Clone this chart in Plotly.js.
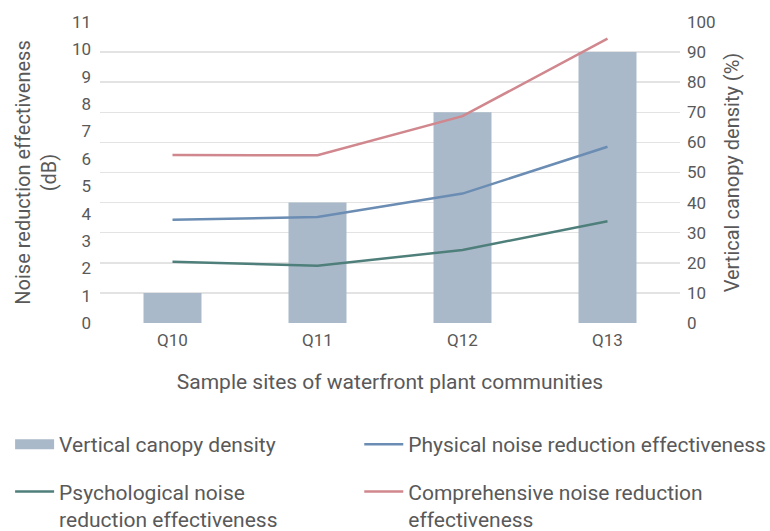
<!DOCTYPE html>
<html>
<head>
<meta charset="utf-8">
<script src="https://cdn.plot.ly/plotly-3.0.1.min.js"></script>
<style>html,body{margin:0;padding:0;background:#fff;}#chart{width:770px;height:531px;}</style>
</head>
<body>
<div id="chart"></div>
<script>
const sites = ["Q10", "Q11", "Q12", "Q13"];
const canopyDensity = [10, 40, 70, 90];
const physicalNR = [3.77, 3.87, 4.73, 6.44];
const psychologicalNR = [2.24, 2.09, 2.67, 3.72];
const comprehensiveNR = [6.14, 6.13, 7.56, 10.39];
const leftTicks = [0,1,2,3,4,5,6,7,8,9,10,11];
const rightTicks = [0,10,20,30,40,50,60,70,80,90,100];

const font = "Roboto, 'DejaVu Sans', sans-serif";
const txt = "#595959";
const barColor = "#aab9ca";

const traces = [
  {type: "bar", name: "Vertical canopy density", x: sites, y: canopyDensity, yaxis: "y",
   marker: {color: barColor}, showlegend: false},
  // legend proxy for the bar series (wide rectangle swatch like the reference)
  {type: "scatter", mode: "lines", name: "Vertical canopy density", x: [null], y: [null], yaxis: "y",
   line: {color: barColor, width: 12}, legend: "legend", legendgroup: "a", hoverinfo: "skip"},
  {type: "scatter", mode: "lines", name: "Physical noise reduction effectiveness", x: sites, y: physicalNR, yaxis: "y2",
   line: {color: "#6b8db3", width: 2.5}, legend: "legend2", legendgroup: "c"},
  {type: "scatter", mode: "lines", name: "Psychological noise<br>reduction effectiveness", x: sites, y: psychologicalNR, yaxis: "y2",
   line: {color: "#4f7f7a", width: 2.5}, legend: "legend", legendgroup: "b"},
  {type: "scatter", mode: "lines", name: "Comprehensive noise reduction<br>effectiveness", x: sites, y: comprehensiveNR, yaxis: "y2",
   line: {color: "#d0878d", width: 2.5}, legend: "legend2", legendgroup: "d"}
];

const legendBase = {
  orientation: "v", y: -0.336, yanchor: "top", xanchor: "left",
  traceorder: "grouped", tracegroupgap: 17, valign: "top",
  font: {size: 21, color: txt}, itemwidth: 39, bgcolor: "rgba(0,0,0,0)"
};

const layout = {
  width: 770, height: 531,
  margin: {l: 100, r: 90, t: 22, b: 208, autoexpand: false},
  paper_bgcolor: "#fff", plot_bgcolor: "#fff",
  font: {family: font, color: txt, size: 17},
  bargap: 0.6,
  showlegend: true,
  xaxis: {
    type: "category", tickfont: {size: 17, color: txt}, showgrid: false,
    showline: false, zeroline: false, ticks: "", ticklabelstandoff: 5,
    title: {text: "Sample sites of waterfront plant communities", font: {size: 21, color: txt}, standoff: 25}
  },
  yaxis: {
    side: "right", range: [0, 100], tickvals: rightTicks, showgrid: true, gridcolor: "#e3e3e3", gridwidth: 1.5,
    zeroline: false, tickfont: {size: 17, color: txt}, ticklabelstandoff: 6,
    title: {text: "Vertical canopy density (%)", font: {size: 20, color: txt}, standoff: 10}
  },
  yaxis2: {
    side: "left", overlaying: "y", range: [0, 11], tickvals: leftTicks, showgrid: false, zeroline: false,
    tickfont: {size: 17, color: txt}, ticklabelstandoff: 8,
    title: {text: "Noise reduction effectiveness<br>(dB)", font: {size: 20, color: txt}, standoff: 9}
  },
  legend: Object.assign({}, legendBase, {x: -0.155}),
  legend2: Object.assign({}, legendBase, {x: 0.447})
};

Plotly.newPlot("chart", traces, layout, {displayModeBar: false, staticPlot: true});
</script>
</body>
</html>
